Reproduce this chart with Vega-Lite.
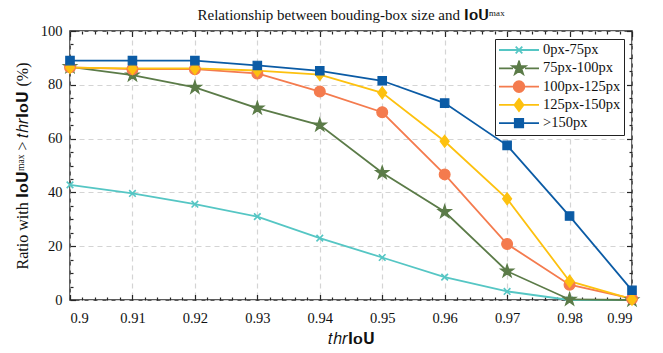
{
  "$schema": "https://vega.github.io/schema/vega-lite/v6.json",
  "width": 562,
  "height": 269,
  "autosize": "none",
  "padding": {"left": 70, "top": 31, "right": 31, "bottom": 53},
  "background": "white",
  "title": {"text": "Relationship between bouding-box size and 𝐈𝐨𝐔ᵐᵃˣ", "font": "Liberation Serif", "fontSize": 15, "fontWeight": "normal", "color": "#111", "offset": 0, "anchor": "middle"},
  "data": {"values": [
    {"thr": 0.9, "series": "0px-75px", "value": 42.8},
    {"thr": 0.91, "series": "0px-75px", "value": 39.6},
    {"thr": 0.92, "series": "0px-75px", "value": 35.6},
    {"thr": 0.93, "series": "0px-75px", "value": 31.0},
    {"thr": 0.94, "series": "0px-75px", "value": 23.0},
    {"thr": 0.95, "series": "0px-75px", "value": 15.8},
    {"thr": 0.96, "series": "0px-75px", "value": 8.5},
    {"thr": 0.97, "series": "0px-75px", "value": 3.2},
    {"thr": 0.98, "series": "0px-75px", "value": 0.0},
    {"thr": 0.99, "series": "0px-75px", "value": 0.0},
    {"thr": 0.9, "series": "75px-100px", "value": 86.7},
    {"thr": 0.91, "series": "75px-100px", "value": 83.6},
    {"thr": 0.92, "series": "75px-100px", "value": 79.0},
    {"thr": 0.93, "series": "75px-100px", "value": 71.3},
    {"thr": 0.94, "series": "75px-100px", "value": 65.0},
    {"thr": 0.95, "series": "75px-100px", "value": 47.3},
    {"thr": 0.96, "series": "75px-100px", "value": 32.8},
    {"thr": 0.97, "series": "75px-100px", "value": 10.7},
    {"thr": 0.98, "series": "75px-100px", "value": 0.2},
    {"thr": 0.99, "series": "75px-100px", "value": 0.0},
    {"thr": 0.9, "series": "100px-125px", "value": 86.5},
    {"thr": 0.91, "series": "100px-125px", "value": 85.8},
    {"thr": 0.92, "series": "100px-125px", "value": 85.8},
    {"thr": 0.93, "series": "100px-125px", "value": 84.2},
    {"thr": 0.94, "series": "100px-125px", "value": 77.5},
    {"thr": 0.95, "series": "100px-125px", "value": 69.8},
    {"thr": 0.96, "series": "100px-125px", "value": 46.7},
    {"thr": 0.97, "series": "100px-125px", "value": 20.8},
    {"thr": 0.98, "series": "100px-125px", "value": 5.7},
    {"thr": 0.99, "series": "100px-125px", "value": 0.5},
    {"thr": 0.9, "series": "125px-150px", "value": 86.4},
    {"thr": 0.91, "series": "125px-150px", "value": 86.1},
    {"thr": 0.92, "series": "125px-150px", "value": 86.1},
    {"thr": 0.93, "series": "125px-150px", "value": 85.3},
    {"thr": 0.94, "series": "125px-150px", "value": 83.8},
    {"thr": 0.95, "series": "125px-150px", "value": 77.0},
    {"thr": 0.96, "series": "125px-150px", "value": 59.0},
    {"thr": 0.97, "series": "125px-150px", "value": 37.6},
    {"thr": 0.98, "series": "125px-150px", "value": 7.0},
    {"thr": 0.99, "series": "125px-150px", "value": 0.3},
    {"thr": 0.9, "series": ">150px", "value": 89.0},
    {"thr": 0.91, "series": ">150px", "value": 89.0},
    {"thr": 0.92, "series": ">150px", "value": 89.0},
    {"thr": 0.93, "series": ">150px", "value": 87.2},
    {"thr": 0.94, "series": ">150px", "value": 85.2},
    {"thr": 0.95, "series": ">150px", "value": 81.5},
    {"thr": 0.96, "series": ">150px", "value": 73.2},
    {"thr": 0.97, "series": ">150px", "value": 57.5},
    {"thr": 0.98, "series": ">150px", "value": 31.2},
    {"thr": 0.99, "series": ">150px", "value": 3.6}
  ]},
  "layer": [
    {
      "mark": {"type": "point", "filled": true, "opacity": 0, "size": 144},
      "encoding": {
        "x": {"field": "thr", "type": "quantitative", "scale": {"domain": [0.9, 0.99], "nice": false, "zero": false}, "axis": null},
        "y": {"field": "value", "type": "quantitative", "scale": {"domain": [0, 100], "nice": false}, "axis": null},
        "color": {"field": "series", "type": "nominal",
          "scale": {"domain": ["0px-75px", "75px-100px", "100px-125px", "125px-150px", ">150px"], "range": ["#55C6C4", "#5B7B48", "#F47B4E", "#FDC10F", "#0B5BA5"]},
          "legend": {"title": null, "orient": "top-right", "offset": 8, "symbolSize": 1600, "clipHeight": 16, "rowPadding": 2.3, "labelOffset": 3, "padding": 3,
            "symbolOpacity": 1, "symbolStrokeWidth": 1.8,
            "strokeColor": "#222", "fillColor": "white", "cornerRadius": 0,
            "labelFont": "Liberation Serif", "labelFontSize": 14.5, "labelColor": "#111"}},
        "stroke": {"field": "series", "type": "nominal",
          "scale": {"domain": ["0px-75px", "75px-100px", "100px-125px", "125px-150px", ">150px"], "range": ["#55C6C4", "#5B7B48", "#F47B4E", "#FDC10F", "#0B5BA5"]},
          "legend": {"title": null, "orient": "top-right", "offset": 8, "symbolSize": 1600, "clipHeight": 16, "rowPadding": 2.3, "labelOffset": 3, "padding": 3,
            "symbolOpacity": 1, "symbolStrokeWidth": 1.8,
            "strokeColor": "#222", "fillColor": "white", "cornerRadius": 0,
            "labelFont": "Liberation Serif", "labelFontSize": 14.5, "labelColor": "#111"}},
        "shape": {"field": "series", "type": "nominal",
          "scale": {"domain": ["0px-75px", "75px-100px", "100px-125px", "125px-150px", ">150px"],
            "range": ["M-1,0L1,0M-0.165,-0.165L0.165,0.165M0.165,-0.165L-0.165,0.165",
                      "M-1,0L-0.3,0M0.3,0L1,0M0,-0.345L0.078,-0.107L0.328,-0.107L0.126,0.041L0.203,0.279L0,0.132L-0.203,0.279L-0.126,0.041L-0.328,-0.107L-0.078,-0.107Z",
                      "M-1,0L-0.27,0M0.27,0L1,0M0.27,0A0.27,0.27 0 1,1 -0.27,0A0.27,0.27 0 1,1 0.27,0Z",
                      "M-1,0L-0.225,0M0.225,0L1,0M0,-0.3L0.225,0L0,0.3L-0.225,0Z",
                      "M-1,0L-0.21,0M0.21,0L1,0M-0.21,-0.21L0.21,-0.21L0.21,0.21L-0.21,0.21Z"]},
          "legend": {"title": null, "orient": "top-right", "offset": 8, "symbolSize": 1600, "clipHeight": 16, "rowPadding": 2.3, "labelOffset": 3, "padding": 3,
            "symbolOpacity": 1, "symbolStrokeWidth": 1.8,
            "strokeColor": "#222", "fillColor": "white", "cornerRadius": 0,
            "labelFont": "Liberation Serif", "labelFontSize": 14.5, "labelColor": "#111"}}
      }
    },
    {
      "mark": {"type": "line", "strokeWidth": 1.8},
      "encoding": {
        "x": {"field": "thr", "type": "quantitative",
          "axis": {"orient": "bottom", "values": [0.9, 0.91, 0.92, 0.93, 0.94, 0.95, 0.96, 0.97, 0.98, 0.99], "format": ".2~f", "domain": false, "ticks": true, "offset": -5.5, "tickSize": 5.5, "tickColor": "#262626", "tickWidth": 1.2, "labelPadding": 11, "labelFont": "Liberation Serif", "labelFontSize": 14.5, "labelColor": "#111",
            "grid": true, "gridColor": "#d4d4d4", "gridDash": [5, 4], "gridWidth": 1.2,
            "title": "𝑡ℎ𝑟𝐈𝐨𝐔", "titleFont": "Liberation Serif", "titleFontSize": 16, "titleFontWeight": "normal", "titleColor": "#111", "titlePadding": 6}},
        "y": {"field": "value", "type": "quantitative",
          "axis": {"orient": "left", "values": [0, 20, 40, 60, 80, 100], "domain": false, "ticks": true, "offset": -5.5, "tickSize": 5.5, "tickColor": "#262626", "tickWidth": 1.2, "labelPadding": 8, "labelFont": "Liberation Serif", "labelFontSize": 14.5, "labelColor": "#111",
            "grid": true, "gridColor": "#d4d4d4", "gridDash": [5, 4], "gridWidth": 1.2,
            "title": "Ratio with 𝐈𝐨𝐔ᵐᵃˣ > 𝑡ℎ𝑟𝐈𝐨𝐔 (%)", "titleFont": "Liberation Serif", "titleFontSize": 16, "titleFontWeight": "normal", "titleColor": "#111", "titlePadding": 10}},
        "stroke": {"field": "series", "type": "nominal"}
      }
    },
    {
      "transform": [{"filter": "datum.series === '0px-75px'"}],
      "mark": {"type": "point", "filled": true, "color": "#55C6C4", "stroke": "#55C6C4", "strokeWidth": 1.6, "opacity": 1, "size": 144, "shape": "M-0.55,-0.55L0.55,0.55M0.55,-0.55L-0.55,0.55"},
      "encoding": {"x": {"field": "thr", "type": "quantitative", "axis": null}, "y": {"field": "value", "type": "quantitative", "axis": null}}
    },
    {
      "transform": [{"filter": "datum.series === '75px-100px'"}],
      "mark": {"type": "point", "filled": true, "color": "#5B7B48", "stroke": "#5B7B48", "strokeWidth": 1.2, "opacity": 1, "size": 144, "shape": "M0,-1.15L0.259,-0.356L1.094,-0.355L0.419,0.136L0.676,0.93L0,0.44L-0.676,0.93L-0.419,0.136L-1.094,-0.355L-0.259,-0.356Z"},
      "encoding": {"x": {"field": "thr", "type": "quantitative", "axis": null}, "y": {"field": "value", "type": "quantitative", "axis": null}}
    },
    {
      "transform": [{"filter": "datum.series === '100px-125px'"}],
      "mark": {"type": "point", "filled": true, "color": "#F47B4E", "stroke": "#F47B4E", "strokeWidth": 1.2, "opacity": 1, "size": 144, "shape": "M0.9,0A0.9,0.9 0 1,1 -0.9,0A0.9,0.9 0 1,1 0.9,0Z"},
      "encoding": {"x": {"field": "thr", "type": "quantitative", "axis": null}, "y": {"field": "value", "type": "quantitative", "axis": null}}
    },
    {
      "transform": [{"filter": "datum.series === '125px-150px'"}],
      "mark": {"type": "point", "filled": true, "color": "#FDC10F", "stroke": "#FDC10F", "strokeWidth": 1.2, "opacity": 1, "size": 144, "shape": "M0,-1L0.75,0L0,1L-0.75,0Z"},
      "encoding": {"x": {"field": "thr", "type": "quantitative", "axis": null}, "y": {"field": "value", "type": "quantitative", "axis": null}}
    },
    {
      "transform": [{"filter": "datum.series === '>150px'"}],
      "mark": {"type": "point", "filled": true, "color": "#0B5BA5", "stroke": "#0B5BA5", "strokeWidth": 1.2, "opacity": 1, "size": 144, "shape": "M-0.7,-0.7L0.7,-0.7L0.7,0.7L-0.7,0.7Z"},
      "encoding": {"x": {"field": "thr", "type": "quantitative", "axis": null}, "y": {"field": "value", "type": "quantitative", "axis": null}}
    },
    {
      "mark": {"type": "point", "opacity": 0},
      "encoding": {
        "x": {"field": "thr", "type": "quantitative",
          "axis": {"orient": "bottom", "values": [0.902, 0.904, 0.906, 0.908, 0.912, 0.914, 0.916, 0.918, 0.922, 0.924, 0.926, 0.928, 0.932, 0.934, 0.936, 0.938, 0.942, 0.944, 0.946, 0.948, 0.952, 0.954, 0.956, 0.958, 0.962, 0.964, 0.966, 0.968, 0.972, 0.974, 0.976, 0.978, 0.982, 0.984, 0.986, 0.988], "domain": false, "ticks": true, "offset": -3, "tickSize": 3, "tickColor": "#262626", "tickWidth": 1.2, "labels": false, "grid": false, "title": null}},
        "y": {"field": "value", "type": "quantitative",
          "axis": {"orient": "left", "values": [5, 10, 15, 25, 30, 35, 45, 50, 55, 65, 70, 75, 85, 90, 95], "domain": false, "ticks": true, "offset": -3, "tickSize": 3, "tickColor": "#262626", "tickWidth": 1.2, "labels": false, "grid": false, "title": null}}
      }
    },
    {
      "mark": {"type": "point", "opacity": 0},
      "encoding": {
        "x": {"field": "thr", "type": "quantitative",
          "axis": {"orient": "top", "values": [0.9, 0.91, 0.92, 0.93, 0.94, 0.95, 0.96, 0.97, 0.98, 0.99], "domain": false, "ticks": true, "offset": -5.5, "tickSize": 5.5, "tickColor": "#262626", "tickWidth": 1.2, "labels": false, "grid": false, "title": null}},
        "y": {"field": "value", "type": "quantitative",
          "axis": {"orient": "right", "values": [0, 20, 40, 60, 80, 100], "domain": false, "ticks": true, "offset": -5.5, "tickSize": 5.5, "tickColor": "#262626", "tickWidth": 1.2, "labels": false, "grid": false, "title": null}}
      }
    },
    {
      "mark": {"type": "point", "opacity": 0},
      "encoding": {
        "x": {"field": "thr", "type": "quantitative",
          "axis": {"orient": "top", "values": [0.902, 0.904, 0.906, 0.908, 0.912, 0.914, 0.916, 0.918, 0.922, 0.924, 0.926, 0.928, 0.932, 0.934, 0.936, 0.938, 0.942, 0.944, 0.946, 0.948, 0.952, 0.954, 0.956, 0.958, 0.962, 0.964, 0.966, 0.968, 0.972, 0.974, 0.976, 0.978, 0.982, 0.984, 0.986, 0.988], "domain": false, "ticks": true, "offset": -3, "tickSize": 3, "tickColor": "#262626", "tickWidth": 1.2, "labels": false, "grid": false, "title": null}},
        "y": {"field": "value", "type": "quantitative",
          "axis": {"orient": "right", "values": [5, 10, 15, 25, 30, 35, 45, 50, 55, 65, 70, 75, 85, 90, 95], "domain": false, "ticks": true, "offset": -3, "tickSize": 3, "tickColor": "#262626", "tickWidth": 1.2, "labels": false, "grid": false, "title": null}}
      }
    }
  ],
  "resolve": {"axis": {"x": "independent", "y": "independent"}},
  "config": {
    "view": {"stroke": "#262626", "strokeWidth": 1.5}
  }
}
